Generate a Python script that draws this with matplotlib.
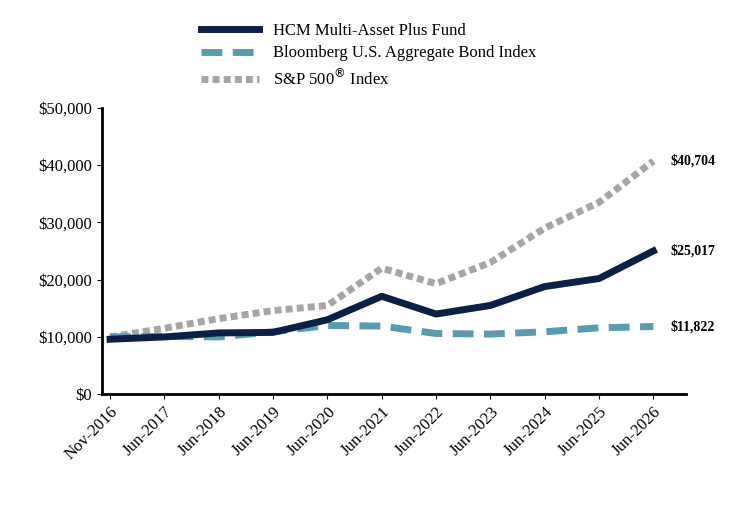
import matplotlib
matplotlib.use("Agg")
import matplotlib.pyplot as plt
from matplotlib.ticker import FuncFormatter

plt.rcParams['font.family'] = ['Liberation Serif', 'DejaVu Serif']

dates = ["Nov-2016","Jun-2017","Jun-2018","Jun-2019","Jun-2020","Jun-2021","Jun-2022","Jun-2023","Jun-2024","Jun-2025","Jun-2026"]
fund = [9600, 10000, 10700, 10800, 13000, 17100, 14000, 15500, 18800, 20200, 25017]
bond = [10000, 10100, 10000, 10900, 12000, 11900, 10600, 10500, 10900, 11600, 11822]
sp500 = [10000, 11500, 13200, 14600, 15500, 22000, 19300, 23000, 29000, 33500, 40704]

fig = plt.figure(figsize=(7.44, 5.16), dpi=100)
ax = fig.add_axes([0.137, 0.236, 0.785, 0.555])
x = list(range(len(dates)))
ax.plot(x, sp500, color='#A6A6A6', lw=5, linestyle=(0, (1, 0.6)), label='S&P 500$^{®}$ Index')
ax.plot(x, bond, color='#5B9BB0', lw=5, linestyle=(0, (3, 1.5)), label='Bloomberg U.S. Aggregate Bond Index')
ax.plot(x, fund, color='#0C1F45', lw=5, label='HCM Multi-Asset Plus Fund')

ax.set_ylim(0, 50000)
ax.set_xlim(-0.15, 10.6)
ax.set_yticks(range(0, 50001, 10000))
ax.yaxis.set_major_formatter(FuncFormatter(lambda v, p: f"${v:,.0f}"))
ax.set_xticks(x)
ax.set_xticklabels(dates, rotation=45, ha='right', rotation_mode='anchor')
ax.tick_params(labelsize=12)
for s in ['top', 'right']:
    ax.spines[s].set_visible(False)
for s in ['left', 'bottom']:
    ax.spines[s].set_linewidth(2)

for v in [sp500[-1], fund[-1], bond[-1]]:
    ax.annotate(f"${v:,.0f}", (10, v), xytext=(12, 0), textcoords='offset points',
                va='center', fontsize=10, fontweight='bold', annotation_clip=False)

h, l = ax.get_legend_handles_labels()
fig.legend(h[::-1], l[::-1], loc='upper left', bbox_to_anchor=(0.25, 0.985), frameon=False,
           fontsize=12, handlelength=3.5, labelspacing=0.4)
fig.savefig("out.png", dpi=100)
